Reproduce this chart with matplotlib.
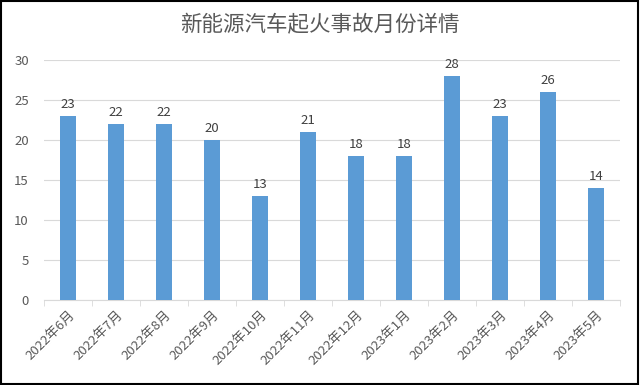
import matplotlib
matplotlib.use('Agg')
import matplotlib.pyplot as plt
import numpy as np

plt.rcParams['font.family'] = ['Noto Sans CJK SC', 'DejaVu Sans']

# 数据
months = ['2022年6月', '2022年7月', '2022年8月', '2022年9月', '2022年10月', '2022年11月',
          '2022年12月', '2023年1月', '2023年2月', '2023年3月', '2023年4月', '2023年5月']
counts = [23, 22, 22, 20, 13, 21, 18, 18, 28, 23, 26, 14]

fig = plt.figure(figsize=(6.4, 3.85), dpi=100)
ax = fig.add_axes([0.069, 0.221, 0.9, 0.623])

x = np.arange(len(months))
ax.bar(x, counts, width=0.33, color='#5B9BD5', zorder=3)

# 数据标签
for xi, v in zip(x, counts):
    ax.text(xi, v + 0.6, str(v), ha='center', va='bottom', fontsize=9.5, color='#404040')

ax.set_xlim(-0.5, len(months) - 0.5)
ax.set_ylim(0, 30)
ax.set_yticks(range(0, 31, 5))
ax.yaxis.grid(True, color='#D9D9D9', linewidth=0.8, zorder=0)
ax.tick_params(axis='y', length=0, labelsize=9.5, labelcolor='#595959', pad=11)

ax.set_xticks(x)
ax.set_xticklabels(months, rotation=45, ha='right', rotation_mode='anchor',
                   fontsize=9.5, color='#595959')
ax.set_xticks(np.arange(-0.5, len(months)), minor=True)
ax.tick_params(axis='x', which='major', length=0, pad=6)
ax.tick_params(axis='x', which='minor', length=4, color='#D9D9D9')

for s in ['top', 'right', 'left']:
    ax.spines[s].set_visible(False)
ax.spines['bottom'].set_color('#D9D9D9')

fig.text(0.5, 0.935, '新能源汽车起火事故月份详情', ha='center', va='center',
         fontsize=15.5, color='#595959')

# 外边框
fig.patches.append(plt.Rectangle((0.002, 0.003), 0.995, 0.994, transform=fig.transFigure,
                                 fill=False, edgecolor='black', linewidth=1.5))

fig.savefig('out.png', dpi=100)
